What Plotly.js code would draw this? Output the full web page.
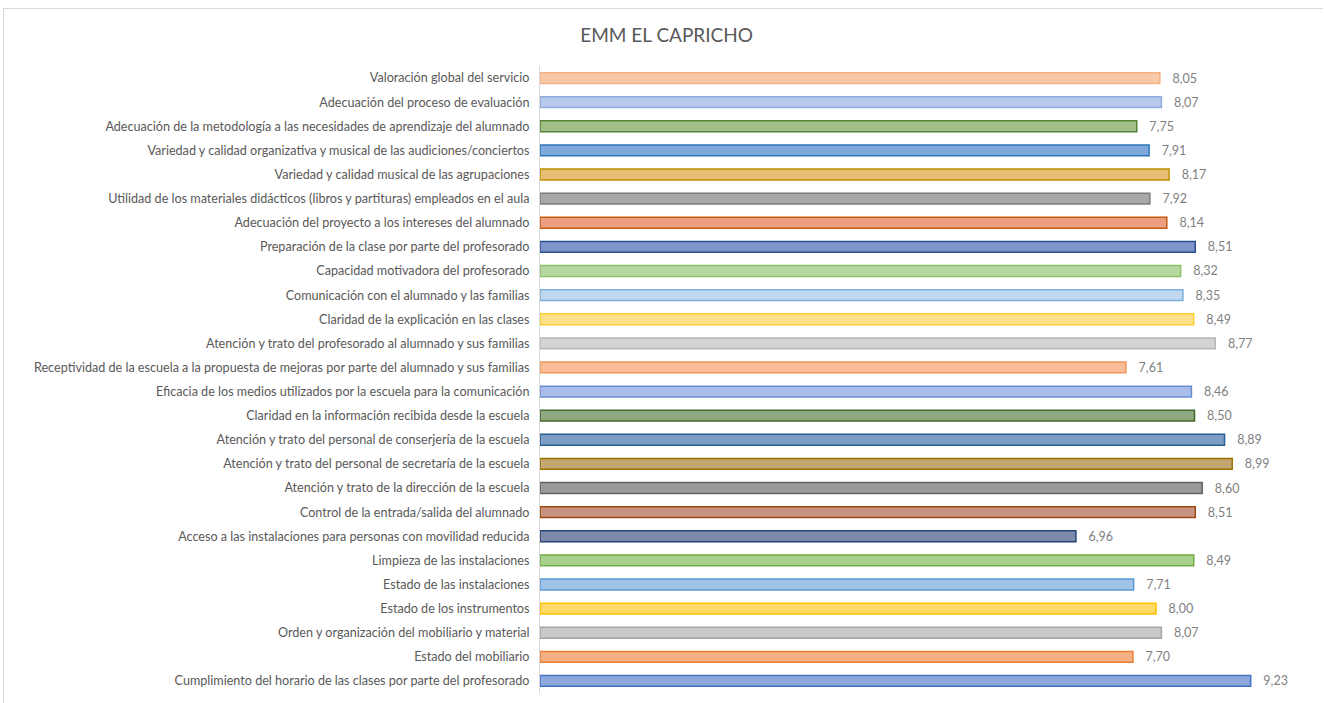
<!DOCTYPE html>
<html>
<head>
<meta charset="utf-8">
<script src="https://cdn.plot.ly/plotly-3.0.1.min.js"></script>
<style>
  body { margin: 0; background: #fff; }
  #grafico { position: absolute; left: 3px; top: 8px; width: 1320px; height: 700px; border: 1px solid #d9d9d9; box-sizing: border-box; }
</style>
</head>
<body>
<div id="grafico"></div>
<script>
// de arriba a abajo, como en el original
const categorias = [
  "Valoración global del servicio",
  "Adecuación del proceso de evaluación",
  "Adecuación de la metodología a las necesidades de aprendizaje del alumnado",
  "Variedad y calidad organizativa y musical de las audiciones/conciertos",
  "Variedad y calidad musical de las agrupaciones",
  "Utilidad de los materiales didácticos (libros y partituras) empleados en el aula",
  "Adecuación del proyecto a los intereses del alumnado",
  "Preparación de la clase por parte del profesorado",
  "Capacidad motivadora del profesorado",
  "Comunicación con el alumnado y las familias",
  "Claridad de la explicación en las clases",
  "Atención y trato del profesorado al alumnado y sus familias",
  "Receptividad de la escuela a la propuesta de mejoras por parte del alumnado y sus familias",
  "Eficacia de los medios utilizados por la escuela para la comunicación",
  "Claridad en la información recibida desde la escuela",
  "Atención y trato del personal de conserjería de la escuela",
  "Atención y trato del personal de secretaría de la escuela",
  "Atención y trato de la dirección de la escuela",
  "Control de la entrada/salida del alumnado",
  "Acceso a las instalaciones para personas con movilidad reducida",
  "Limpieza de las instalaciones",
  "Estado de las instalaciones",
  "Estado de los instrumentos",
  "Orden y organización del mobiliario y material",
  "Estado del mobiliario",
  "Cumplimiento del horario de las clases por parte del profesorado"
];
const valores = [8.05, 8.07, 7.75, 7.91, 8.17, 7.92, 8.14, 8.51, 8.32, 8.35, 8.49, 8.77, 7.61,
  8.46, 8.50, 8.89, 8.99, 8.60, 8.51, 6.96, 8.49, 7.71, 8.00, 8.07, 7.70, 9.23];

const relleno = ["#f8c9a8", "#b9cbec", "#a2bf8a", "#7fa8dc", "#e8bd76", "#a8a8a8", "#ee9f82", "#7f95cc",
  "#b6d8a0", "#bfd8f0", "#ffe08a", "#d3d3d3", "#f8bd96", "#a9bcea", "#8fa880", "#7d9dc6",
  "#c4a671", "#9a9a9a", "#c99382", "#7a8aa8", "#a9d18e", "#9fc4e8", "#ffd966", "#c9c9c9",
  "#f4b183", "#8eaadd"];
const borde = ["#f4b183", "#8faadc", "#548235", "#2e75b6", "#bf9000", "#7c7c7c", "#c55a11", "#2f4f94",
  "#8cc168", "#7cafdd", "#ffcd33", "#b7b7b7", "#f1975a", "#698ed0", "#43682b", "#255e91",
  "#997300", "#636363", "#9e480e", "#264478", "#70ad47", "#5b9bd5", "#ffc000", "#a5a5a5",
  "#ed7d31", "#4472c4"];

const fuente = "Lato, 'Open Sans', sans-serif";

Plotly.newPlot("grafico", [{
  type: "bar",
  orientation: "h",
  x: valores,
  y: categorias,
  width: 0.45,
  marker: { color: relleno, line: { color: borde, width: 1.5 } },
  texttemplate: "   %{x:.2f}",
  textposition: "outside",
  constraintext: "none",
  cliponaxis: false,
  textfont: { family: fuente, size: 12.5, color: "#7f7f7f" },
  hoverinfo: "none"
}], {
  width: 1320,
  height: 700,
  separators: ",.",
  paper_bgcolor: "#fff",
  plot_bgcolor: "#fff",
  font: { family: fuente, color: "#595959" },
  title: { text: "EMM EL CAPRICHO", x: 0.502, xanchor: "center", y: 0.962, yanchor: "middle", font: { size: 19, color: "#595959", family: fuente } },
  margin: { l: 536, r: 14, t: 57, b: 16 },
  xaxis: { range: [0, 10], visible: false, fixedrange: true },
  yaxis: {
    autorange: "reversed",
    showline: true, linecolor: "#d9d9d9", linewidth: 1,
    showgrid: false, ticks: "", ticklabelstandoff: 7,
    tickfont: { family: fuente, size: 12.6, color: "#595959" },
    automargin: false
  },
  showlegend: false
}, { displayModeBar: false, staticPlot: true });
</script>
</body>
</html>
